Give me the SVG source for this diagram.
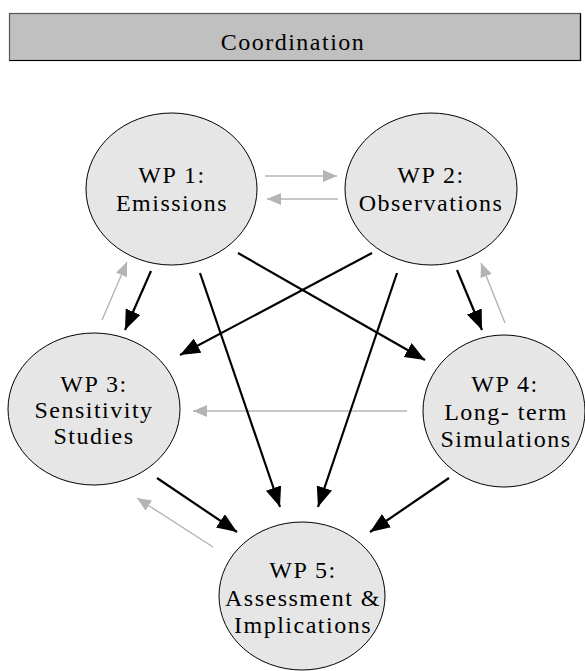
<svg xmlns="http://www.w3.org/2000/svg" width="585" height="671" viewBox="0 0 585 671">
<style>
text{font-family:"Liberation Serif",Tinos,"Noto Serif","DejaVu Serif","Times New Roman",Times,serif;font-size:24px;letter-spacing:1.5px;fill:#000;text-anchor:middle}
.n{fill:#e6e6e6;stroke:#000;stroke-width:1}
.b{stroke:#000;stroke-width:2.2;fill:none;marker-end:url(#hb)}
.g{stroke:#b4b4b4;stroke-width:1.4;fill:none;marker-end:url(#hg)}
</style>
<defs>
<marker id="hb" markerUnits="userSpaceOnUse" markerWidth="22" markerHeight="18" refX="20" refY="8" orient="auto" viewBox="0 0 22 18">
<path d="M0,0 L20,8 L0,16 z" fill="#000"/>
</marker>
<marker id="hg" markerUnits="userSpaceOnUse" markerWidth="16" markerHeight="14" refX="14" refY="6" orient="auto" viewBox="0 0 16 14">
<path d="M0,0 L14,6 L0,12 z" fill="#b4b4b4"/>
</marker>
</defs>
<rect width="585" height="671" fill="#fff"/>
<g id="coordination">
<rect x="9.5" y="13.5" width="571" height="47" fill="#c0c0c0" stroke="#555" stroke-width="1.2"/>
<path d="M9.5,60.5 H580.5 V13.5" fill="none" stroke="#000" stroke-width="1.2"/>
<text x="293" y="50">Coordination</text>
</g>
<g id="connectors">
<line class="g" x1="265" y1="176" x2="337" y2="176"/>
<line class="g" x1="338" y1="199" x2="267" y2="199"/>
<line class="g" x1="102" y1="320" x2="127" y2="262"/>
<line class="g" x1="505" y1="323" x2="481" y2="263"/>
<line class="g" x1="407" y1="411" x2="193" y2="411"/>
<line class="g" x1="213" y1="547" x2="137" y2="498"/>
<line class="b" x1="151" y1="271" x2="125" y2="330"/>
<line class="b" x1="200" y1="273" x2="280" y2="507"/>
<line class="b" x1="238" y1="253" x2="425" y2="360"/>
<line class="b" x1="372" y1="253" x2="180" y2="355"/>
<line class="b" x1="397" y1="273" x2="318" y2="507"/>
<line class="b" x1="457" y1="270" x2="482" y2="330"/>
<line class="b" x1="157" y1="478" x2="237" y2="532"/>
<line class="b" x1="449" y1="478" x2="370" y2="532"/>
</g>
<g id="wp1">
<ellipse class="n" cx="171.5" cy="189" rx="85.5" ry="76"/>
<text x="172" y="183">WP 1:</text>
<text x="172" y="211">Emissions</text>
</g>
<g id="wp2">
<ellipse class="n" cx="431" cy="189" rx="86" ry="76"/>
<text x="431" y="183">WP 2:</text>
<text x="431" y="211">Observations</text>
</g>
<g id="wp3">
<ellipse class="n" cx="94" cy="409" rx="86" ry="76"/>
<text x="94" y="392">WP 3:</text>
<text x="94" y="418">Sensitivity</text>
<text x="94" y="444">Studies</text>
</g>
<g id="wp4">
<ellipse class="n" cx="504" cy="411" rx="81" ry="76"/>
<text x="505" y="392">WP 4:</text>
<text x="506" y="420">Long- term</text>
<text x="506" y="447">Simulations</text>
</g>
<g id="wp5">
<ellipse class="n" cx="302" cy="596" rx="83" ry="74"/>
<text x="303" y="578">WP 5:</text>
<text x="303" y="606">Assessment &amp;</text>
<text x="303" y="633">Implications</text>
</g>
</svg>
